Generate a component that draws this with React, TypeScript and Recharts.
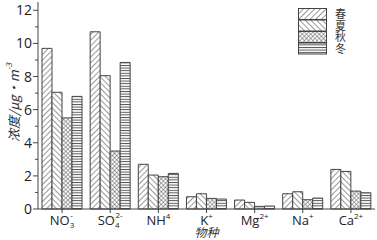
import React from "react";
import { BarChart, Bar, XAxis, YAxis } from "recharts";

const species = ["NO3", "SO4", "NH4", "K", "Mg", "Na", "Ca"];
const spring = [9.7, 10.7, 2.7, 0.74, 0.54, 0.92, 2.39];
const summer = [7.05, 8.05, 2.05, 0.92, 0.4, 1.04, 2.27];
const autumn = [5.5, 3.5, 1.95, 0.64, 0.16, 0.56, 1.08];
const winter = [6.8, 8.85, 2.15, 0.6, 0.18, 0.66, 0.98];
const seasons = ["春", "夏", "秋", "冬"];
const yTicks = [0, 1, 2, 3, 4, 5, 6, 7, 8, 9, 10, 11, 12];

const data = species.map((s, i) => ({
  name: s,
  spring: spring[i],
  summer: summer[i],
  autumn: autumn[i],
  winter: winter[i],
}));

// label pieces: base text, subscript, superscript
const labelParts: Record<string, [string, string, string]> = {
  NO3: ["NO", "3", "-"],
  SO4: ["SO", "4", "2-"],
  NH4: ["NH", "", "4"],
  K: ["K", "", "+"],
  Mg: ["Mg", "", "2+"],
  Na: ["Na", "", "+"],
  Ca: ["Ca", "", "2+"],
};

const ink = "#444";
const font = "'Open Sans', sans-serif";
const cjk = "'Noto Sans CJK SC', serif";
const patternIds = ["pSpring", "pSummer", "pAutumn", "pWinter"];

function Patterns() {
  return (
    <svg width={0} height={0} style={{ position: "absolute" }}>
      <defs>
        <pattern id="pSpring" width={4} height={4} patternUnits="userSpaceOnUse" patternTransform="rotate(45)">
          <rect width={4} height={4} fill="#fff" />
          <line x1={0} y1={0} x2={0} y2={4} stroke={ink} strokeWidth={1.1} />
        </pattern>
        <pattern id="pSummer" width={4} height={4} patternUnits="userSpaceOnUse" patternTransform="rotate(-45)">
          <rect width={4} height={4} fill="#fff" />
          <line x1={0} y1={0} x2={0} y2={4} stroke={ink} strokeWidth={1.1} />
        </pattern>
        <pattern id="pAutumn" width={3} height={3} patternUnits="userSpaceOnUse" patternTransform="rotate(45)">
          <rect width={3} height={3} fill="#fff" />
          <line x1={0} y1={0} x2={0} y2={3} stroke={ink} strokeWidth={0.9} />
          <line x1={0} y1={0} x2={3} y2={0} stroke={ink} strokeWidth={0.9} />
        </pattern>
        <pattern id="pWinter" width={3} height={2.6} patternUnits="userSpaceOnUse">
          <rect width={3} height={2.6} fill="#fff" />
          <line x1={0} y1={0.5} x2={3} y2={0.5} stroke={ink} strokeWidth={0.9} />
        </pattern>
      </defs>
    </svg>
  );
}

const XTick = (props: any) => {
  const { x, y, payload } = props;
  const [base, sub, sup] = labelParts[payload.value];
  return (
    <g>
      <line x1={x} y1={y} x2={x} y2={y + 4} stroke={ink} />
      <text x={x} y={y + 16} textAnchor="middle" fontSize={13} fontFamily={font} fill="#222">
        <tspan>{base}</tspan>
        {sub && <tspan fontSize={8} dy={3}>{sub}</tspan>}
        {sup && <tspan fontSize={8} dx={sub ? -4 : 0} dy={sub ? -10 : -6}>{sup}</tspan>}
      </text>
    </g>
  );
};

const YTick = (props: any) => {
  const { x, y, payload } = props;
  const major = payload.value % 2 === 0;
  return (
    <g>
      <line x1={x} y1={y} x2={x - (major ? 5 : 3)} y2={y} stroke={ink} />
      {major && (
        <text x={x - 6} y={y + 5} textAnchor="end" fontSize={14} fontFamily={font} fill="#222">
          {payload.value}
        </text>
      )}
    </g>
  );
};

const YLabel = (props: any) => {
  const { viewBox } = props;
  const cy = viewBox.y + viewBox.height / 2 - 3;
  return (
    <text
      x={13}
      y={cy}
      transform={`rotate(-90 13 ${cy})`}
      textAnchor="middle"
      dominantBaseline="central"
      fontSize={13}
      fontStyle="italic"
      fontFamily={cjk}
      fill="#333"
    >
      浓度/μg·m
      <tspan fontSize={8} dy={-5}>-3</tspan>
    </text>
  );
};

const XLabel = (props: any) => {
  const { viewBox } = props;
  const cx = viewBox.x + viewBox.width / 2;
  return (
    <text x={cx} y={237} textAnchor="middle" fontSize={12} fontStyle="italic" fontFamily={cjk} fill="#333">
      物种
    </text>
  );
};

const SeasonLegend = () => (
  <div style={{ display: "flex", background: "#fff" }}>
    <svg width={30} height={48}>
      {patternIds.map((id, i) => (
        <rect key={id} x={0.5} y={0.5 + i * 11.5} width={28} height={11} fill={`url(#${id})`} stroke={ink} />
      ))}
    </svg>
    <div
      style={{
        fontFamily: cjk,
        fontSize: 11,
        lineHeight: "11.5px",
        color: "#333",
        marginLeft: 7,
      }}
    >
      {seasons.map((s) => (
        <div key={s}>{s}</div>
      ))}
    </div>
  </div>
);

export default function App() {
  const keys = ["spring", "summer", "autumn", "winter"];
  return (
    <div style={{ position: "absolute", left: 0, top: 0, width: 377, height: 240, background: "#fff" }}>
      <Patterns />
      <BarChart
        width={377}
        height={240}
        data={data}
        margin={{ top: 2, right: 2, left: 0, bottom: 0 }}
        barCategoryGap={4}
        barGap={0}
      >
        <XAxis
          dataKey="name"
          tick={<XTick />}
          tickLine={false}
          tickSize={0}
          tickMargin={0}
          axisLine={{ stroke: ink }}
          height={31}
          interval={0}
          label={<XLabel />}
        />
        <YAxis
          domain={[0, 12.5]}
          ticks={yTicks}
          interval={0}
          tick={<YTick />}
          tickLine={false}
          tickSize={0}
          tickMargin={0}
          axisLine={{ stroke: ink }}
          width={38}
          label={<YLabel />}
        />
        {keys.map((k, i) => (
          <Bar key={k} dataKey={k} fill={`url(#${patternIds[i]})`} stroke={ink} strokeWidth={1} isAnimationActive={false} />
        ))}
      </BarChart>
      <div style={{ position: "absolute", left: 298, top: 8 }}>
        <SeasonLegend />
      </div>
    </div>
  );
}
